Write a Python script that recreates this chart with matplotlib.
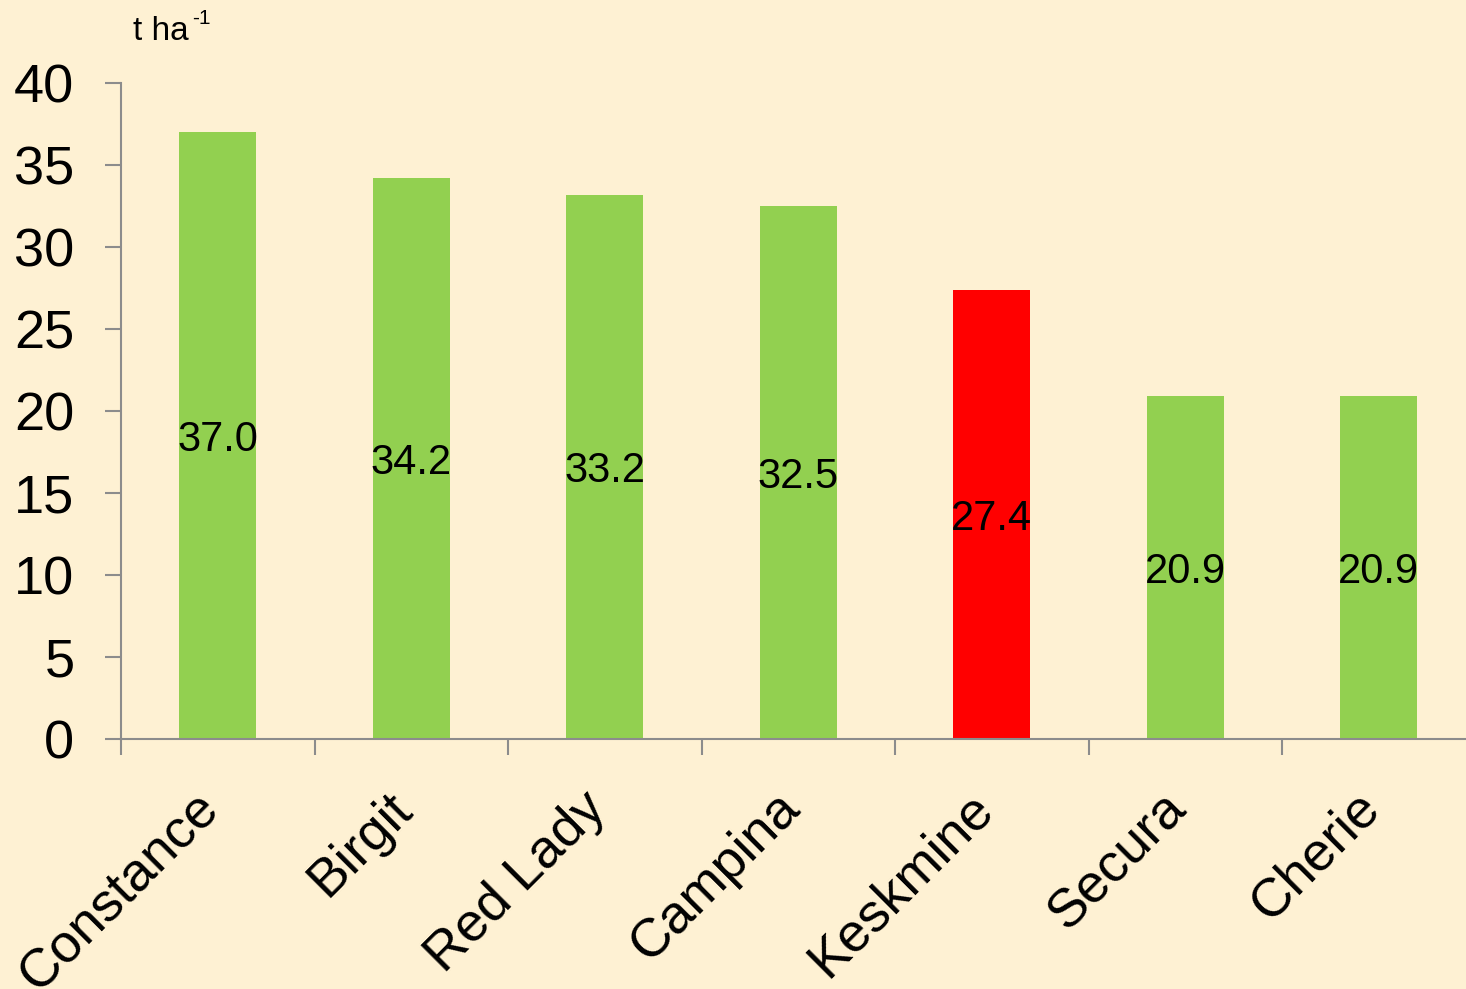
import matplotlib
matplotlib.use("Agg")
from matplotlib import pyplot as plt
from matplotlib.transforms import ScaledTranslation
import numpy as np

# saak t/ha
sordid = ["Constance", "Birgit", "Red Lady", "Campina", "Keskmine", "Secura", "Cherie"]
saak = [37.0, 34.2, 33.2, 32.5, 27.4, 20.9, 20.9]
varvid = ["#92D050", "#92D050", "#92D050", "#92D050", "#FF0000", "#92D050", "#92D050"]

taust = "#FEF1D3"
hall = "#8C8C8C"

plt.rcParams['font.family'] = ['Liberation Sans', 'DejaVu Sans']

fig = plt.figure(figsize=(14.66, 9.89), dpi=100, facecolor=taust)
W, H = 1466, 989
ax = fig.add_axes([121 / W, (H - 739) / H, 1354.5 / W, 656 / H])
ax.set_facecolor(taust)

x = np.arange(len(sordid))
ax.bar(x, saak, width=0.40, color=varvid, zorder=2)
for xi, v in zip(x, saak):
    ax.text(xi, v / 2, f"{v:.1f}", ha="center", va="center_baseline", fontsize=30, color="black", zorder=3)

ax.set_xlim(-0.5, len(sordid) - 0.5)
ax.set_ylim(0, 40)
ax.set_yticks(range(0, 41, 5))
ax.tick_params(axis="y", labelsize=39, length=11.5, width=1.5, color=hall, pad=22)

ax.set_xticks(x)
ax.set_xticklabels(sordid, rotation=45, ha="right", va="center", rotation_mode="anchor", fontsize=39)
ax.tick_params(axis="x", which="major", length=0, pad=40)
nihe = ScaledTranslation(-0.07, -0.06, fig.dpi_scale_trans)
for lab in ax.get_xticklabels():
    lab.set_transform(lab.get_transform() + nihe)
ax.set_xticks(np.arange(-0.5, len(sordid)), minor=True)
ax.tick_params(axis="x", which="minor", length=11.5, width=1.5, color=hall, direction="out")

for s in ["top", "right"]:
    ax.spines[s].set_visible(False)
for s in ["left", "bottom"]:
    ax.spines[s].set_color(hall)
    ax.spines[s].set_linewidth(1.5)

# ühik vasakul üleval
fig.text(133 / W, 1 - 40 / H, "t ha", fontsize=24, va="baseline", ha="left")
fig.text(192 / W, 1 - 24 / H, "-1", fontsize=15, va="baseline", ha="left")

fig.savefig("out.png", dpi=100, facecolor=taust)
